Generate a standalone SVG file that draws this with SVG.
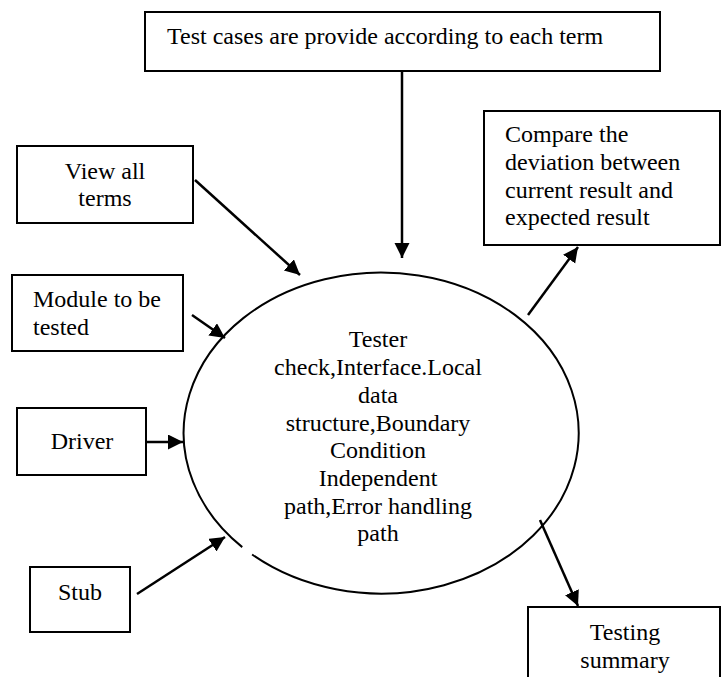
<svg xmlns="http://www.w3.org/2000/svg" width="726" height="677" viewBox="0 0 726 677">
  <style>
    .box { fill: #ffffff; stroke: #000000; stroke-width: 2; }
    .oval { fill: none; stroke: #000000; stroke-width: 2; }
    .lbl { font-family: "Liberation Serif", "Times New Roman", serif; font-size: 24px; fill: #000000; }
    .mid { text-anchor: middle; }
    .edge { stroke: #000000; stroke-width: 2.5; fill: none; marker-end: url(#arrow); }
  </style>
  <defs>
    <marker id="arrow" markerUnits="userSpaceOnUse" markerWidth="16" markerHeight="16" refX="15" refY="7.5" orient="auto">
      <path d="M0,0 L15,7.5 L0,15 z" fill="#000000"/>
    </marker>
  </defs>
  <rect width="726" height="677" fill="#ffffff"/>

  <g id="test-cases">
    <rect class="box" x="145" y="12" width="515" height="59"/>
    <text class="lbl" x="167" y="44">Test cases are provide according to each term</text>
  </g>

  <g id="view-all-terms">
    <rect class="box" x="17" y="146" width="176" height="77"/>
    <text class="lbl mid" x="105" y="179">View all</text>
    <text class="lbl mid" x="105" y="206">terms</text>
  </g>

  <g id="module">
    <rect class="box" x="12" y="275" width="171" height="76"/>
    <text class="lbl" x="33" y="307">Module to be</text>
    <text class="lbl" x="33" y="335">tested</text>
  </g>

  <g id="driver">
    <rect class="box" x="17" y="408" width="129" height="67"/>
    <text class="lbl mid" x="82" y="449">Driver</text>
  </g>

  <g id="stub">
    <rect class="box" x="30" y="567" width="100" height="65"/>
    <text class="lbl mid" x="80" y="600">Stub</text>
  </g>

  <g id="compare">
    <rect class="box" x="484" y="111" width="236" height="134"/>
    <text class="lbl" x="505" y="142">Compare the</text>
    <text class="lbl" x="505" y="170">deviation between</text>
    <text class="lbl" x="505" y="198">current result and</text>
    <text class="lbl" x="505" y="225">expected result</text>
  </g>

  <g id="testing-summary">
    <rect class="box" x="528" y="607" width="192" height="80"/>
    <text class="lbl mid" x="625" y="640">Testing</text>
    <text class="lbl mid" x="625" y="668">summary</text>
  </g>

  <g id="tester">
    <path class="oval" d="M242.25,547.1 A197.5,160.5 0 1 1 252.1,554.5"/>
    <text class="lbl mid" x="378" y="347">Tester</text>
    <text class="lbl mid" x="378" y="375">check,Interface.Local</text>
    <text class="lbl mid" x="378" y="403">data</text>
    <text class="lbl mid" x="378" y="431">structure,Boundary</text>
    <text class="lbl mid" x="378" y="458">Condition</text>
    <text class="lbl mid" x="378" y="486">Independent</text>
    <text class="lbl mid" x="378" y="514">path,Error handling</text>
    <text class="lbl mid" x="378" y="541">path</text>
  </g>

  <g id="connectors">
    <line class="edge" x1="402" y1="72" x2="402" y2="258"/>
    <line class="edge" x1="195" y1="180" x2="300" y2="275"/>
    <line class="edge" x1="192" y1="315" x2="225" y2="338"/>
    <line class="edge" x1="146" y1="442" x2="183" y2="442"/>
    <line class="edge" x1="137" y1="594" x2="225" y2="537"/>
    <line class="edge" x1="528" y1="315" x2="578" y2="247"/>
    <line class="edge" x1="540" y1="520" x2="578" y2="606"/>
  </g>
</svg>
